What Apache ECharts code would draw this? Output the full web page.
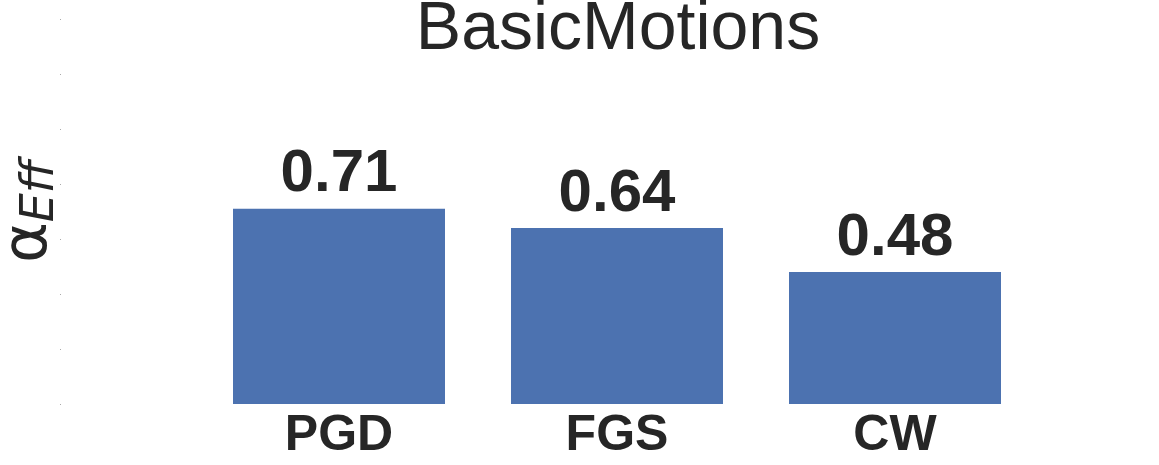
<!DOCTYPE html>
<html>
<head>
<meta charset="utf-8">
<script src="https://cdn.jsdelivr.net/npm/echarts@6/dist/echarts.min.js"></script>
<style>
  html, body { margin: 0; padding: 0; background: #fff; }
  #chart { width: 1159px; height: 465px; }
</style>
</head>
<body>
<div id="chart"></div>
<script>
// data
const categories = ['PGD', 'FGS', 'CW'];
const values = [0.71, 0.64, 0.48];
const yTicks = [0, 0.2, 0.4, 0.6, 0.8, 1.0, 1.2, 1.4];

const chart = echarts.init(document.getElementById('chart'));

// bars sit at x = 0, 1, 2 on a value axis so the y axis can stay at the far left
const barData = values.map((v, i) => [i, v]);

const option = {
  backgroundColor: '#fff',
  animation: false,
  title: {
    text: 'BasicMotions',
    left: 613,
    textAlign: 'center',
    top: -9,
    textStyle: {
      fontFamily: 'Liberation Sans',
      fontSize: 68,
      fontWeight: 'normal',
      color: '#262626'
    }
  },
  grid: {
    left: 61,
    right: 125,
    top: 19,
    bottom: 61,
    containLabel: false,
    outerBoundsMode: 'none'
  },
  xAxis: {
    type: 'value',
    min: -1,
    max: 2.5,
    interval: 1,
    axisLine: { show: false },
    axisTick: { show: false },
    splitLine: { show: false },
    axisLabel: {
      margin: 7,
      fontFamily: 'Liberation Sans',
      fontSize: 50,
      fontWeight: 'bold',
      color: '#262626',
      formatter: v => categories[Math.round(v)] || ''
    }
  },
  yAxis: {
    type: 'value',
    min: yTicks[0],
    max: yTicks[yTicks.length - 1],
    interval: 0.2,
    axisLine: { show: false, onZero: false },
    axisTick: { show: true, length: 1, lineStyle: { color: '#aaa', width: 1 } },
    axisLabel: { show: false },
    splitLine: { show: false },
    name: '{a|α}{s|Eff}',
    nameLocation: 'middle',
    nameGap: -3,
    nameRotate: 90,
    nameTextStyle: {
      rich: {
        a: { fontFamily: 'DejaVu Sans', fontSize: 62, color: '#262626' },
        s: { fontFamily: 'DejaVu Sans', fontSize: 46, fontStyle: 'italic', color: '#262626', padding: [22, 0, 0, 0] }
      }
    }
  },
  series: [{
    type: 'bar',
    data: barData,
    barWidth: 212,
    itemStyle: { color: '#4C72B0' },
    label: {
      show: true,
      position: 'top',
      distance: 4,
      fontFamily: 'Liberation Sans',
      fontSize: 60,
      fontWeight: 'bold',
      color: '#262626',
      formatter: p => p.value[1].toFixed(2)
    }
  }]
};

chart.setOption(option);
</script>
</body>
</html>
